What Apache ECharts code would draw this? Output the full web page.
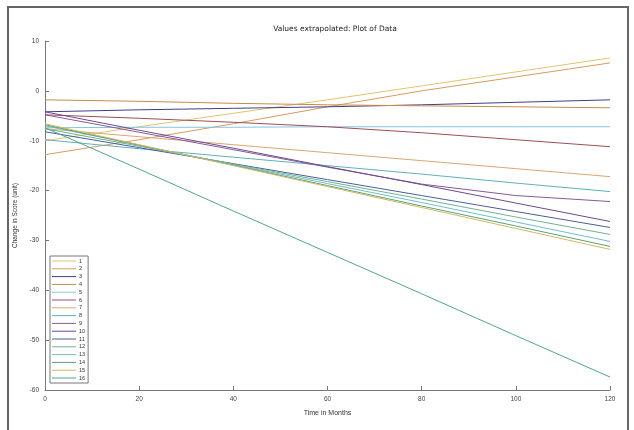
<!DOCTYPE html>
<html><head><meta charset="utf-8">
<script src="https://cdn.jsdelivr.net/npm/echarts@6/dist/echarts.min.js"></script>
<style>html,body{margin:0;padding:0;background:#fff}#c{width:634px;height:430px}</style>
</head><body><div id="c"></div>
<script>
const months = [0, 20, 40, 60, 80, 100, 120];
const names = ['1','2','3','4','5','6','7','8','9','10','11','12','13','14','15','16'];
const colors = ['#e3c46a','#d99a5c','#3c3f86','#c98a48','#86c4dc','#9c4e55','#dca572','#5fb0b8',
                '#8a5898','#6a4a8e','#4c5c9c','#6cb48a','#72bccc','#5ca072','#d2b862','#4aa68e'];
const s1  = [-10.0, -7.2, -4.5, -1.8, 1.0, 3.8, 6.6];
const s2  = [-12.8, -9.8, -6.6, -3.2, 0.0, 2.8, 5.6];
const s3  = [-4.2, -3.8, -3.5, -3.2, -2.8, -2.3, -1.8];
const s4  = [-1.8, -2.1, -2.5, -2.8, -3.0, -3.2, -3.4];
const s5  = [-7.4, -7.3, -7.3, -7.2, -7.2, -7.2, -7.2];
const s6  = [-4.8, -5.5, -6.3, -7.2, -8.4, -9.8, -11.2];
const s7  = [-7.6, -9.2, -10.8, -12.4, -14.0, -15.6, -17.2];
const s8  = [-9.8, -11.6, -13.3, -15.0, -16.7, -18.5, -20.2];
const s9  = [-4.8, -8.3, -11.8, -15.3, -18.7, -21.0, -22.2];
const s10 = [-4.2, -7.9, -11.5, -15.2, -18.8, -22.5, -26.2];
const s11 = [-8.2, -11.4, -14.6, -17.8, -21.0, -24.2, -27.4];
const s12 = [-7.6, -11.1, -14.7, -18.2, -21.7, -25.3, -28.8];
const s13 = [-7.0, -10.9, -14.8, -18.6, -22.4, -26.3, -30.2];
const s14 = [-6.8, -10.9, -14.9, -19.0, -23.1, -27.1, -31.2];
const s15 = [-6.6, -10.8, -15.0, -19.2, -23.4, -27.6, -31.8];
const s16 = [-7.4, -15.7, -24.1, -32.4, -40.7, -49.1, -57.4];
const allSeries = [s1,s2,s3,s4,s5,s6,s7,s8,s9,s10,s11,s12,s13,s14,s15,s16];
const yTicks = [10, 0, -10, -20, -30, -40, -50, -60];
const xTicks = [0, 20, 40, 60, 80, 100, 120];

const chart = echarts.init(document.getElementById('c'));
chart.setOption({
  animation: false,
  color: colors,
  title: {text: 'Values extrapolated: Plot of Data', left: 330, top: 20, textAlign: 'center',
          textStyle: {fontSize: 7.5, fontWeight: 'normal', color: '#222', fontFamily: 'DejaVu Sans'}},
  grid: {left: 45, right: 24, top: 41, bottom: 40},
  xAxis: {type: 'value', min: 0, max: 120, interval: 20, name: 'Time in Months',
    nameLocation: 'middle', nameGap: 20, nameTextStyle: {fontSize: 7, color: '#333'},
    axisLine: {onZero: false, lineStyle: {color: '#777'}}, axisTick: {inside: true, length: 4, lineStyle: {color: '#777'}},
    axisLabel: {fontSize: 6.5, color: '#444', margin: 6}, splitLine: {show: false}},
  yAxis: {type: 'value', min: -60, max: 10, interval: 10, name: 'Change in Score (unit)',
    nameLocation: 'middle', nameGap: 20, nameTextStyle: {fontSize: 6.5, color: '#333'},
    axisLine: {show: true, onZero: false, lineStyle: {color: '#777'}}, axisTick: {show: true, inside: true, length: 4, lineStyle: {color: '#777'}},
    axisLabel: {fontSize: 6.5, color: '#444', margin: 6}, splitLine: {show: false}},
  legend: {orient: 'vertical', left: 50, top: 256, itemWidth: 24, itemHeight: 1, itemGap: 1.8,
    icon: 'rect', padding: [2, 3, 2, 2], borderColor: '#777', borderWidth: 1,
    textStyle: {fontSize: 5.5, color: '#333', padding: [0, 0, 0, -2]}, data: names},
  graphic: [{type: 'rect', shape: {x: 8, y: 7, width: 620, height: 440},
    style: {fill: 'none', stroke: '#666', lineWidth: 2}, silent: true}],
  series: allSeries.map((vals, i) => ({
    name: names[i], type: 'line', showSymbol: false, symbol: 'none',
    lineStyle: {width: 1}, data: months.map((m, j) => [m, vals[j]])
  }))
});
</script></body></html>
